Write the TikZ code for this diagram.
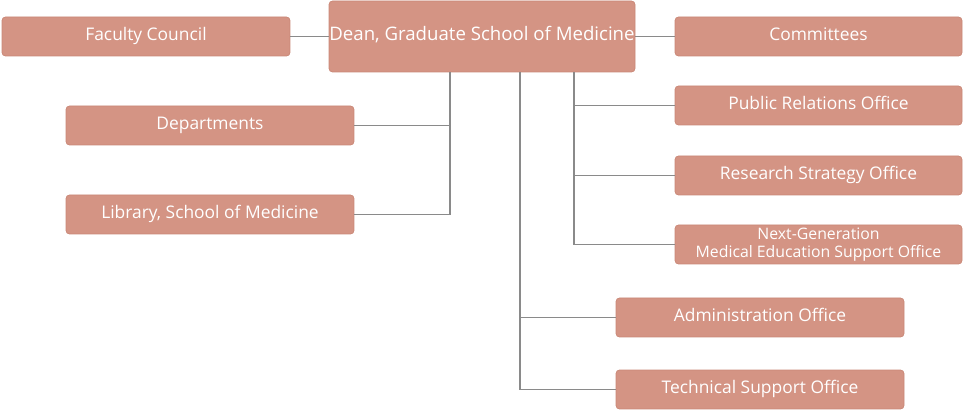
\documentclass[tikz,border=0pt]{standalone}
\usepackage{fontspec}
\setmainfont{Open Sans}
\usetikzlibrary{positioning,calc}
\definecolor{boxfill}{HTML}{D49484}
\definecolor{boxline}{HTML}{C98877}
\definecolor{linkgray}{HTML}{8A8A8A}
\tikzset{
  unitbox/.style={draw=boxline, fill=boxfill, rounded corners=2pt, text=white,
    font=\fontsize{9.9}{10}\selectfont, align=center, inner sep=0pt},
  link/.style={draw=linkgray, line width=0.6pt},
}
\newcommand{\unit}[6]{% name, x1, y1, x2, y2, text
  \node[unitbox, minimum width=(#4-#2)*0.02cm, minimum height=(#5-#3)*0.02cm]
    (#1) at ({(#2+#4)/2*0.02}, {-(#3+#5)/2*0.02}) {\strut#6};}
\begin{document}
\begin{tikzpicture}
  \useasboundingbox (0,0) rectangle (964*0.02,-410*0.02);
  % boxes
  \unit{council}{2}{17}{290}{56}{Faculty Council}
  \unit{dean}{329}{1}{635}{72}{\fontsize{10.6}{11}\selectfont Dean, Graduate School of Medicine}
  \unit{committees}{675}{17}{962}{56}{Committees}
  \unit{depts}{66}{106}{354}{145}{Departments}
  \unit{library}{66}{195}{354}{234}{Library, School of Medicine}
  \unit{pr}{675}{86}{962}{125}{Public Relations Office}
  \unit{rs}{675}{156}{962}{195}{Research Strategy Office}
  \unit{ng}{675}{225}{962}{264}{\fontsize{9}{8.5}\selectfont Next-Generation\\\fontsize{9}{8.5}\selectfont Medical Education Support Office}
  \unit{admin}{616}{298}{904}{337}{Administration Office}
  \unit{tech}{616}{370}{904}{409}{Technical Support Office}
  % junctions
  \coordinate (left) at (450*0.02,0);
  \coordinate (mid) at (520*0.02,0);
  \coordinate (right) at (574*0.02,0);
  % connectors
  \path[link] (council) -- (dean);
  \path[link] (dean) -- (committees);
  \path[link] (left |- dean.south) -- (left |- library) -- (library);
  \path[link] (depts) -- (left |- depts);
  \path[link] (mid |- dean.south) -- (mid |- tech) -- (tech);
  \path[link] (mid |- admin) -- (admin);
  \path[link] (right |- dean.south) -- (right |- ng) -- (ng);
  \path[link] (right |- pr) -- (pr);
  \path[link] (right |- rs) -- (rs);
\end{tikzpicture}
\end{document}
